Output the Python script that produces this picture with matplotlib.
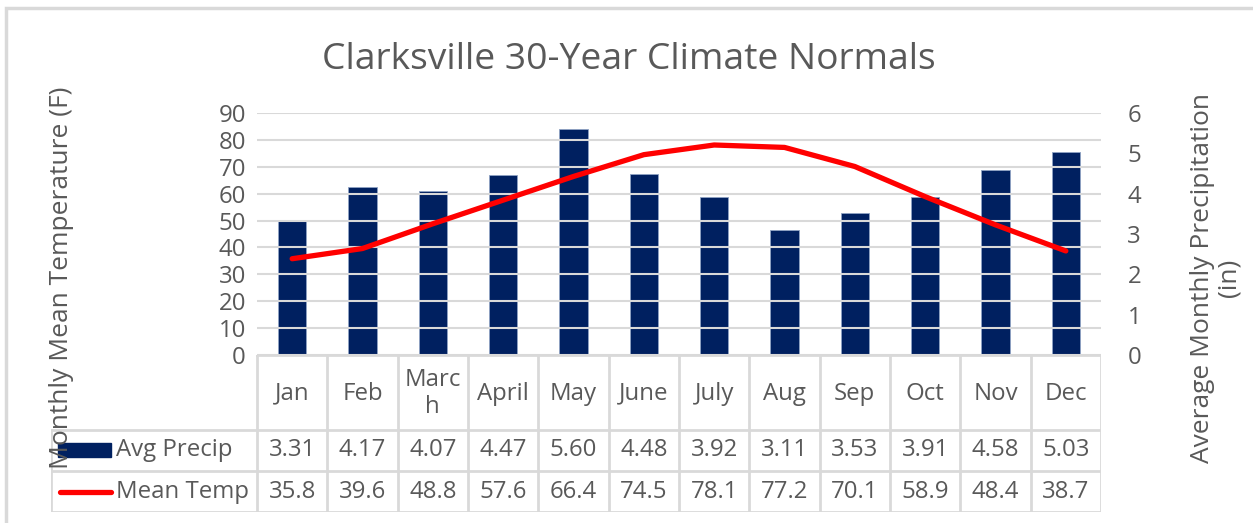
import numpy as np
import matplotlib.pyplot as plt

plt.rcParams['font.family'] = ['Open Sans', 'DejaVu Sans']

months = ['Jan', 'Feb', 'Marc\nh', 'April', 'May', 'June', 'July', 'Aug', 'Sep', 'Oct', 'Nov', 'Dec']
precip = [3.31, 4.17, 4.07, 4.47, 5.60, 4.48, 3.92, 3.11, 3.53, 3.91, 4.58, 5.03]
temp = [35.8, 39.6, 48.8, 57.6, 66.4, 74.5, 78.1, 77.2, 70.1, 58.9, 48.4, 38.7]

W, H = 1253, 523
txt = '#595959'
grid = '#d9d9d9'
navy = '#002060'
red = '#ff0000'


def fx(px):
    return px / W


def fy(py):
    return (H - py) / H


fig = plt.figure(figsize=(W / 100, H / 100), dpi=100)

# outer chart border
fig.patches.append(plt.Rectangle((fx(6), fy(600)), fx(1300), (600 - 8) / H,
                                 transform=fig.transFigure, fill=False,
                                 edgecolor=grid, lw=2.5))

x0, x1, ytop, ybot = 257, 1101, 113, 355
ax = fig.add_axes([fx(x0), fy(ybot), fx(x1 - x0), (ybot - ytop) / H])
ax2 = ax.twinx()
x = np.arange(len(months))

ax2.bar(x, precip, width=0.4, color=navy, edgecolor='#8fa3c4', lw=0.6, zorder=2)
ax2.set_ylim(0, 6)
ax.set_ylim(0, 90)
ax.set_xlim(-0.5, len(months) - 0.5)
ax.set_yticks(np.arange(0, 91, 10))
ax2.set_yticks(np.arange(0, 7, 1))
ax.grid(axis='y', color=grid, lw=1.5)
ax.set_axisbelow(True)
ax.set_zorder(ax2.get_zorder() + 1)
ax.patch.set_visible(False)
ax.plot(x, temp, color=red, lw=3.8, solid_capstyle='round', zorder=3)

fs = 17.3
for a in (ax, ax2):
    for s in a.spines.values():
        s.set_visible(False)
    a.tick_params(length=0, labelsize=fs, labelcolor=txt)
ax.set_xticks([])
ax.tick_params(axis='y', pad=8)
ax2.tick_params(axis='y', pad=19)

# data table
tab = fig.add_axes([fx(51), fy(512), fx(x1 - 51), (512 - ybot) / H])
tab.set_xlim(51, x1)
tab.set_ylim(512, ybot)
tab.axis('off')
edges = np.linspace(x0, x1, len(months) + 1)
rows = [ybot, 430, 471, 512]
lc = dict(color=grid, lw=2, solid_capstyle='projecting')
tab.plot([x0, x1], [ybot, ybot], **lc)
for yy in rows[1:]:
    tab.plot([51, x1], [yy, yy], **lc)
for e in edges:
    tab.plot([e, e], [ybot, 512], **lc)
tab.plot([51, 51], [430, 512], **lc)

centers = (edges[:-1] + edges[1:]) / 2
for cx, m, p, t in zip(centers, months, precip, temp):
    tab.text(cx, (rows[0] + rows[1]) / 2 + 1, m, ha='center', va='center',
             fontsize=fs, color=txt, linespacing=1.2)
    tab.text(cx, (rows[1] + rows[2]) / 2, f'{p:.2f}', ha='center', va='center',
             fontsize=fs, color=txt)
    tab.text(cx, (rows[2] + rows[3]) / 2, f'{t:.1f}', ha='center', va='center',
             fontsize=fs, color=txt)

# legend keys in table
tab.add_patch(plt.Rectangle((58, 443), 53, 14, color=navy))
tab.plot([60, 111], [492, 492], color=red, lw=3.8, solid_capstyle='round')
tab.text(116, (rows[1] + rows[2]) / 2, 'Avg Precip', ha='left', va='center',
         fontsize=fs, color=txt)
tab.text(116, (rows[2] + rows[3]) / 2, 'Mean Temp', ha='left', va='center',
         fontsize=fs, color=txt)

fig.text(fx(629), fy(60), 'Clarksville 30-Year Climate Normals', ha='center',
         va='center', fontsize=26.8, color=txt)
fig.text(fx(62), fy(278), 'Monthly Mean Temperature (F)', ha='center',
         va='center', rotation=90, fontsize=19, color=txt)
fig.text(fx(1216), fy(278), 'Average Monthly Precipitation\n(in)', ha='center',
         va='center', rotation=90, fontsize=19, color=txt, linespacing=1.1)

fig.savefig('out.png', dpi=100)
